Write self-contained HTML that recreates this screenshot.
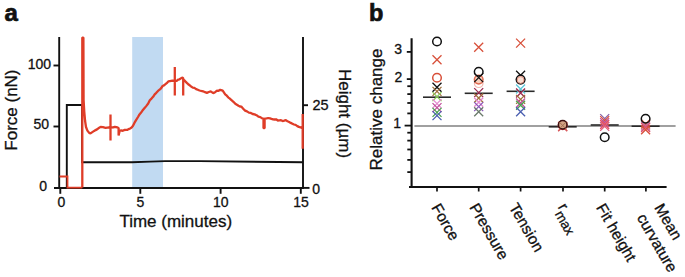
<!DOCTYPE html>
<html><head><meta charset="utf-8"><style>
html,body{margin:0;padding:0;background:#fff;}
body{width:685px;height:277px;overflow:hidden;}
svg{display:block;}
</style></head><body>
<svg width="685" height="277" viewBox="0 0 685 277">
<rect width="685" height="277" fill="#fff"/>
<rect x="132.2" y="37" width="30.8" height="151" fill="#c1daf2"/>
<path d="M59.2 37V188.9M54 188H303.9M303 37V188.9" stroke="#111" stroke-width="1.9" fill="none"/>
<path d="M53.5 65.5H59" stroke="#111" stroke-width="1.9"/>
<path d="M53.5 126.5H59" stroke="#111" stroke-width="1.9"/>
<path d="M303 105.2H308" stroke="#111" stroke-width="1.9"/>
<path d="M303 187.9H309.5" stroke="#111" stroke-width="1.9"/>
<path d="M60.3 188V193.8" stroke="#111" stroke-width="1.9"/>
<path d="M140.3 188V193.8" stroke="#111" stroke-width="1.9"/>
<path d="M220.6 188V193.8" stroke="#111" stroke-width="1.9"/>
<path d="M300.8 188V193.8" stroke="#111" stroke-width="1.9"/>
<polyline fill="none" stroke="#111" stroke-width="1.9" stroke-linejoin="miter" points="59,188 66.8,188 66.8,105 82,105 82,162.3 132,162.3 150,161.6 165,161.1 200,161.1 303,162.3"/>
<polyline fill="none" stroke="#df3d28" stroke-width="1.8" stroke-linejoin="miter" points="59.5,176.5 67.5,176.5 67.5,187.6 82.3,187.6"/>
<polyline fill="none" stroke="#df3d28" stroke-width="2.3" stroke-linejoin="bevel" points="82.3,187.6 82.3,37.6 83.4,37.6 83.6,100.0 84.3,112.0 85.1,121.0 86.0,127.0 87.4,130.6 89.2,132.9 90.5,133.4 92.7,131.9 94.2,130.9 95.6,130.1 97.0,129.4 98.4,128.3 100.6,126.9 102.9,127.1 105.6,127.8 107.2,127.6 108.9,127.5 110.5,127.6 110.5,114.5 110.5,140.4 110.5,127.5 113.2,127.4 114.8,126.8 116.5,127.1 118.6,128.0 118.6,135.6 119.7,130.8 121.2,130.4 122.8,130.8 124.3,130.0 125.8,129.9 127.2,129.9 128.7,129.1 130.1,128.5 131.6,127.6 133.0,125.8 134.4,122.9 136.2,119.9 138.0,117.0 139.5,114.4 140.9,112.8 142.3,110.8 145.0,107.6 146.6,105.6 148.2,103.5 149.8,100.3 151.5,98.6 153.1,96.8 154.7,94.3 156.3,92.8 158.0,90.9 159.6,89.7 161.2,88.1 162.6,86.0 164.0,85.4 166.7,83.2 168.3,81.4 169.9,81.1 172.3,80.7 174.8,81.0 174.8,67.0 174.8,95.5 174.8,81.0 176.7,80.8 178.1,79.6 179.5,79.3 182.1,77.6 183.2,78.0 183.2,95.5 183.2,79.5 185.0,81.0 186.8,82.9 188.2,84.2 189.7,85.3 191.1,86.5 192.8,87.6 194.4,87.9 196.1,89.1 197.8,89.8 199.5,90.5 201.2,90.9 203.1,91.3 205.0,92.2 206.9,92.9 208.8,92.0 210.7,91.4 213.2,93.1 215.1,92.2 217.0,90.7 218.6,90.8 220.2,89.8 222.7,90.6 225.2,94.3 226.8,95.7 228.4,97.6 229.9,98.6 231.5,100.2 233.4,101.8 235.3,103.8 236.9,104.8 238.5,105.8 239.9,106.5 241.3,106.6 243.2,108.7 245.1,110.6 247.0,111.4 248.9,112.6 250.8,112.9 252.7,114.0 254.6,114.4 256.5,115.2 258.4,116.7 260.3,117.1 262.2,118.4 263.5,118.6 263.5,128.2 264.6,128.2 264.6,118.6 266.6,118.4 268.3,118.0 270.0,118.4 271.5,118.9 273.0,119.3 274.5,119.5 276.1,119.3 277.8,120.5 279.4,120.4 281.0,120.2 282.6,121.0 284.3,120.7 285.9,120.1 287.5,121.3 289.1,122.0 290.8,122.9 292.4,123.7 294.0,124.5 295.6,124.9 297.3,126.1 298.9,126.9 300.5,127.3 302.4,128.2 302.7,128.2 302.7,114.1 302.7,148.8"/>
<text font-family="Liberation Sans" fill="#111" stroke="#111" stroke-width="0.3" font-size="14" x="51" y="68.7" text-anchor="end">100</text>
<text font-family="Liberation Sans" fill="#111" stroke="#111" stroke-width="0.3" font-size="14" x="49" y="129.4" text-anchor="end">50</text>
<text font-family="Liberation Sans" fill="#111" stroke="#111" stroke-width="0.3" font-size="14" x="47" y="190.7" text-anchor="end">0</text>
<text font-family="Liberation Sans" fill="#111" stroke="#111" stroke-width="0.3" font-size="14" x="61.4" y="207.2" text-anchor="middle">0</text>
<text font-family="Liberation Sans" fill="#111" stroke="#111" stroke-width="0.3" font-size="14" x="140.3" y="207.2" text-anchor="middle">5</text>
<text font-family="Liberation Sans" fill="#111" stroke="#111" stroke-width="0.3" font-size="14" x="220.8" y="207.2" text-anchor="middle">10</text>
<text font-family="Liberation Sans" fill="#111" stroke="#111" stroke-width="0.3" font-size="14" x="301" y="207.2" text-anchor="middle">15</text>
<text font-family="Liberation Sans" fill="#111" stroke="#111" stroke-width="0.3" font-size="14.5" x="312.4" y="109.7">25</text>
<text font-family="Liberation Sans" fill="#111" stroke="#111" stroke-width="0.3" font-size="14" x="312.2" y="193.7">0</text>
<text font-family="Liberation Sans" fill="#111" stroke="#111" stroke-width="0.3" font-size="17" x="175.75" y="226.8" text-anchor="middle">Time (minutes)</text>
<text font-family="Liberation Sans" fill="#111" stroke="#111" stroke-width="0.3" font-size="17" transform="translate(17.3,110.1) rotate(-90)" text-anchor="middle">Force (nN)</text>
<text font-family="Liberation Sans" fill="#111" stroke="#111" stroke-width="0.3" font-size="17" transform="translate(339,113.5) rotate(90)" text-anchor="middle">Height (µm)</text>
<text font-family="Liberation Sans" font-weight="bold" font-size="24" fill="#111" stroke="#111" stroke-width="0.7" x="4.4" y="20.6">a</text>
<text font-family="Liberation Sans" font-weight="bold" font-size="23.5" fill="#111" stroke="#111" stroke-width="0.7" x="368.9" y="21.4">b</text>
<path d="M411.6 38.2V187.5M409 187H666.6" stroke="#111" stroke-width="2.1" fill="none"/>
<path d="M414.4 126.1H675.6" stroke="#808080" stroke-width="1.5" fill="none"/>
<path d="M406.8 51.9H411.6" stroke="#111" stroke-width="1.8"/>
<path d="M406.8 79.1H411.6" stroke="#111" stroke-width="1.8"/>
<path d="M407.3 86.2H411.6" stroke="#111" stroke-width="1.8"/>
<path d="M407.3 94.1H411.6" stroke="#111" stroke-width="1.8"/>
<path d="M407.3 103.0H411.6" stroke="#111" stroke-width="1.8"/>
<path d="M407.3 113.4H411.6" stroke="#111" stroke-width="1.8"/>
<path d="M404.6 125.6H411.6" stroke="#111" stroke-width="1.8"/>
<path d="M407.3 132.7H411.6" stroke="#111" stroke-width="1.8"/>
<path d="M407.3 140.6H411.6" stroke="#111" stroke-width="1.8"/>
<path d="M407.3 149.5H411.6" stroke="#111" stroke-width="1.8"/>
<path d="M407.3 159.9H411.6" stroke="#111" stroke-width="1.8"/>
<path d="M407.3 172.1H411.6" stroke="#111" stroke-width="1.8"/>
<path d="M437 187V191.5" stroke="#111" stroke-width="1.7"/>
<path d="M478.7 187V191.5" stroke="#111" stroke-width="1.7"/>
<path d="M520.6 187V191.5" stroke="#111" stroke-width="1.7"/>
<path d="M563 187V191.5" stroke="#111" stroke-width="1.7"/>
<path d="M604.7 187V191.5" stroke="#111" stroke-width="1.7"/>
<path d="M645.9 187V191.5" stroke="#111" stroke-width="1.7"/>
<text font-family="Liberation Sans" fill="#111" stroke="#111" stroke-width="0.3" font-size="14" x="402" y="54.1" text-anchor="end">3</text>
<text font-family="Liberation Sans" fill="#111" stroke="#111" stroke-width="0.3" font-size="14" x="402.2" y="81.6" text-anchor="end">2</text>
<text font-family="Liberation Sans" fill="#111" stroke="#111" stroke-width="0.3" font-size="14" x="401" y="127.6" text-anchor="end">1</text>
<text font-family="Liberation Sans" fill="#111" stroke="#111" stroke-width="0.3" font-size="17" transform="translate(381.7,109.5) rotate(-90)" text-anchor="middle">Relative change</text>
<path d="M423 97.2H451" stroke="#2a2a2a" stroke-width="1.6"/>
<circle cx="437" cy="41.5" r="4.3" fill="none" stroke="#111" stroke-width="1.5"/>
<path d="M432.5 55.3L441.5 64.3M432.5 64.3L441.5 55.3" stroke="#d8503a" stroke-width="1.3" fill="none"/>
<circle cx="437" cy="77.8" r="4.3" fill="none" stroke="#d8503a" stroke-width="1.5"/>
<path d="M432.5 82.8L441.5 91.8M432.5 91.8L441.5 82.8" stroke="#111" stroke-width="1.3" fill="none"/>
<path d="M432.5 86.9L441.5 95.9M432.5 95.9L441.5 86.9" stroke="#a0703c" stroke-width="1.3" fill="none"/>
<path d="M432.5 92.1L441.5 101.1M432.5 101.1L441.5 92.1" stroke="#8acb5a" stroke-width="1.3" fill="none"/>
<path d="M432.5 99.1L441.5 108.1M432.5 108.1L441.5 99.1" stroke="#e58ad0" stroke-width="1.3" fill="none"/>
<path d="M432.5 103.1L441.5 112.1M432.5 112.1L441.5 103.1" stroke="#c0509a" stroke-width="1.3" fill="none"/>
<path d="M432.5 107.9L441.5 116.9M432.5 116.9L441.5 107.9" stroke="#4aa050" stroke-width="1.3" fill="none"/>
<path d="M432.5 111.1L441.5 120.1M432.5 120.1L441.5 111.1" stroke="#4a5fb0" stroke-width="1.3" fill="none"/>
<path d="M464.7 93.3H492.7" stroke="#2a2a2a" stroke-width="1.6"/>
<path d="M474.2 42.7L483.2 51.7M474.2 51.7L483.2 42.7" stroke="#d8503a" stroke-width="1.3" fill="none"/>
<circle cx="478.7" cy="83.2" r="4.3" fill="none" stroke="#f4b8b0" stroke-width="1.2"/>
<circle cx="478.7" cy="79.6" r="4.3" fill="#f8d2c0" stroke="#e06a50" stroke-width="1.5"/>
<path d="M474.2 73.1L483.2 82.1M474.2 82.1L483.2 73.1" stroke="#111" stroke-width="1.3" fill="none"/>
<circle cx="478.7" cy="71.8" r="4.3" fill="none" stroke="#111" stroke-width="1.5"/>
<path d="M474.2 88.1L483.2 97.1M474.2 97.1L483.2 88.1" stroke="#9a2a50" stroke-width="1.3" fill="none"/>
<path d="M474.2 93.5L483.2 102.5M474.2 102.5L483.2 93.5" stroke="#a0703c" stroke-width="1.3" fill="none"/>
<path d="M474.2 97.8L483.2 106.8M474.2 106.8L483.2 97.8" stroke="#e58ad0" stroke-width="1.3" fill="none"/>
<path d="M474.2 102.1L483.2 111.1M474.2 111.1L483.2 102.1" stroke="#8a5ab8" stroke-width="1.3" fill="none"/>
<path d="M474.2 107.2L483.2 116.2M474.2 116.2L483.2 107.2" stroke="#6a7a6a" stroke-width="1.3" fill="none"/>
<path d="M506.6 91.3H534.6" stroke="#2a2a2a" stroke-width="1.6"/>
<path d="M516.1 38.6L525.1 47.6M516.1 47.6L525.1 38.6" stroke="#d8503a" stroke-width="1.3" fill="none"/>
<path d="M516.1 70.8L525.1 79.8M516.1 79.8L525.1 70.8" stroke="#111" stroke-width="1.3" fill="none"/>
<circle cx="520.6" cy="79.6" r="4.3" fill="#f9e0d4" stroke="#111" stroke-width="1.5"/>
<circle cx="520.6" cy="80" r="3.4" fill="none" stroke="#e89484" stroke-width="1"/>
<path d="M516.1 84.5L525.1 93.5M516.1 93.5L525.1 84.5" stroke="#5cc8dc" stroke-width="1.3" fill="none"/>
<path d="M516.1 88.5L525.1 97.5M516.1 97.5L525.1 88.5" stroke="#9a2a50" stroke-width="1.3" fill="none"/>
<path d="M516.1 94.9L525.1 103.9M516.1 103.9L525.1 94.9" stroke="#a0703c" stroke-width="1.3" fill="none"/>
<path d="M516.1 98.5L525.1 107.5M516.1 107.5L525.1 98.5" stroke="#c0509a" stroke-width="1.3" fill="none"/>
<path d="M516.1 100.7L525.1 109.7M516.1 109.7L525.1 100.7" stroke="#4aa050" stroke-width="1.3" fill="none"/>
<path d="M516.1 107.2L525.1 116.2M516.1 116.2L525.1 107.2" stroke="#4a5fb0" stroke-width="1.3" fill="none"/>
<path d="M548.7 126.8H576.7" stroke="#2a2a2a" stroke-width="1.6"/>
<path d="M558.2 121.9L567.2 130.9M558.2 130.9L567.2 121.9" stroke="#d8503a" stroke-width="1.3" fill="none"/>
<path d="M558.2 122.3L567.2 131.3M558.2 131.3L567.2 122.3" stroke="#d85a60" stroke-width="1.3" fill="none"/>
<circle cx="562.7" cy="125.2" r="4.3" fill="none" stroke="#c04040" stroke-width="1.5"/>
<circle cx="562.7" cy="124.7" r="4.3" fill="#d4a385" stroke="#3a1010" stroke-width="1.5"/>
<path d="M559.4000000000001 122.2L566.0 128.8M559.4000000000001 128.8L566.0 122.2" stroke="#a07050" stroke-width="1" fill="none"/>
<path d="M590.7 125H618.7" stroke="#2a2a2a" stroke-width="1.6"/>
<path d="M600.2 114.1L609.2 123.1M600.2 123.1L609.2 114.1" stroke="#8a64a8" stroke-width="1.3" fill="none"/>
<path d="M600.2 116.1L609.2 125.1M600.2 125.1L609.2 116.1" stroke="#d8503a" stroke-width="1.3" fill="none"/>
<path d="M600.2 118.1L609.2 127.1M600.2 127.1L609.2 118.1" stroke="#c0509a" stroke-width="1.3" fill="none"/>
<path d="M600.2 120.0L609.2 129.0M600.2 129.0L609.2 120.0" stroke="#e85060" stroke-width="1.3" fill="none"/>
<path d="M600.2 121.9L609.2 130.9M600.2 130.9L609.2 121.9" stroke="#e06080" stroke-width="1.3" fill="none"/>
<circle cx="604.7" cy="137.3" r="4.3" fill="none" stroke="#111" stroke-width="1.5"/>
<path d="M631.6 126.2H659.6" stroke="#2a2a2a" stroke-width="1.6"/>
<path d="M641.1 119.5L650.1 128.5M641.1 128.5L650.1 119.5" stroke="#d8503a" stroke-width="1.3" fill="none"/>
<path d="M641.1 121.5L650.1 130.5M641.1 130.5L650.1 121.5" stroke="#c070a0" stroke-width="1.3" fill="none"/>
<path d="M641.1 123.0L650.1 132.0M641.1 132.0L650.1 123.0" stroke="#e05070" stroke-width="1.3" fill="none"/>
<path d="M641.1 125.30000000000001L650.1 134.3M641.1 134.3L650.1 125.30000000000001" stroke="#d8503a" stroke-width="1.3" fill="none"/>
<circle cx="645.6" cy="118.8" r="4.3" fill="none" stroke="#111" stroke-width="1.5"/>
<text font-family="Liberation Sans" fill="#111" stroke="#111" stroke-width="0.3" font-size="15.5" transform="translate(430.9,207.5) rotate(60)">Force</text>
<text font-family="Liberation Sans" fill="#111" stroke="#111" stroke-width="0.3" font-size="15.5" transform="translate(469.1,207.2) rotate(60)">Pressure</text>
<text font-family="Liberation Sans" fill="#111" stroke="#111" stroke-width="0.3" font-size="15.5" transform="translate(508.6,206.9) rotate(60)">Tension</text>
<text font-family="Liberation Sans" fill="#111" stroke="#111" stroke-width="0.3" font-size="15.5" transform="translate(595.8,207.6) rotate(60)">Fit height</text>
<text font-family="Liberation Sans" fill="#111" stroke="#111" stroke-width="0.3" font-size="15.5" transform="translate(654.1,207.6) rotate(60)">Mean</text>
<text font-family="Liberation Sans" fill="#111" stroke="#111" stroke-width="0.3" font-size="15.5" transform="translate(636.4,217.6) rotate(60)">curvature</text>
<text font-family="Liberation Sans" fill="#111" stroke="#111" stroke-width="0.3" font-size="15.5" transform="translate(557.5,206.9) rotate(60)">r<tspan font-size="13.5" dx="-0.5" dy="6.2">max</tspan></text>
</svg>
</body></html>
